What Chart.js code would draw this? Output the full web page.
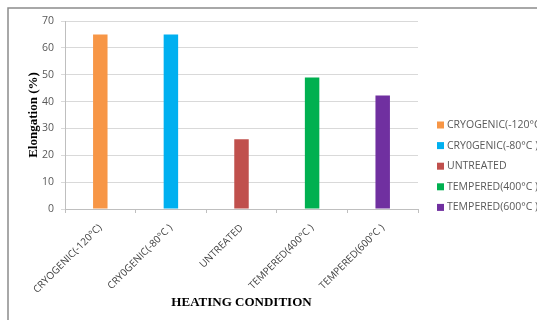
<!DOCTYPE html>
<html>
<head>
<meta charset="utf-8">
<script src="https://cdn.jsdelivr.net/npm/chart.js@4"></script>
<style>
  html, body { margin: 0; padding: 0; background: #fff; }
  #wrap { width: 537px; height: 320px; position: relative; }
</style>
</head>
<body>
<div id="wrap"><canvas id="chart" width="537" height="320"></canvas></div>
<script>
// Heating conditions and measured elongation (%)
const categories = ['CRYOGENIC(-120°C)', 'CRY0GENIC(-80°C )', 'UNTREATED', 'TEMPERED(400°C )', 'TEMPERED(600°C )'];
const legendLabels = ['CRYOGENIC(-120°C', 'CRY0GENIC(-80°C )', 'UNTREATED', 'TEMPERED(400°C )', 'TEMPERED(600°C )'];
const elongation = [65, 65, 26, 49, 42.3];
const barColors = ['#F79646', '#00B0F0', '#C0504D', '#00B050', '#7030A0'];
const yTicks = [0, 10, 20, 30, 40, 50, 60, 70];

const labelFont = '"Open Sans", sans-serif';

// Frame lines along the top and left edges
const framePlugin = {
  id: 'frame',
  beforeDraw(chart) {
    const ctx = chart.ctx;
    ctx.save();
    ctx.fillStyle = '#fff';
    ctx.fillRect(0, 0, chart.width, chart.height);
    ctx.strokeStyle = '#8c8c8c';
    ctx.lineWidth = 1.5;
    ctx.beginPath();
    ctx.moveTo(8, chart.height);
    ctx.lineTo(8, 8);
    ctx.lineTo(chart.width, 8);
    ctx.stroke();
    ctx.restore();
  }
};

// Legend listing each condition with its bar colour, placed right of the plot
const sideLegend = {
  id: 'sideLegend',
  afterDraw(chart) {
    const ctx = chart.ctx;
    ctx.save();
    ctx.font = '10.5px ' + labelFont;
    ctx.textBaseline = 'middle';
    const x0 = 437, y0 = 125, step = 20.6;
    legendLabels.forEach((lbl, i) => {
      const y = y0 + i * step;
      ctx.fillStyle = barColors[i];
      ctx.fillRect(x0, y - 3.5, 7, 7);
      ctx.fillStyle = '#595959';
      ctx.fillText(lbl, x0 + 10, y);
    });
    ctx.restore();
  }
};

new Chart(document.getElementById('chart'), {
  type: 'bar',
  data: {
    labels: categories,
    datasets: [{
      data: elongation,
      backgroundColor: barColors,
      categoryPercentage: 1.0,
      barPercentage: 0.205
    }]
  },
  options: {
    responsive: false,
    animation: false,
    devicePixelRatio: 1,
    layout: { padding: { top: 21, right: 119, bottom: 10, left: 26 } },
    plugins: {
      legend: { display: false },
      tooltip: { enabled: false }
    },
    scales: {
      x: {
        offset: true,
        afterFit(scale) {
          // rotated labels may hang past the left edge; keep the plot where it is
          scale.height = 101;
          scale.paddingLeft = 0;
          scale.paddingRight = 0;
        },
        grid: { drawOnChartArea: false, offset: true, tickLength: 4, color: '#bfbfbf' },
        border: { color: '#bfbfbf' },
        ticks: {
          maxRotation: 45, minRotation: 45, padding: 9,
          color: '#404040',
          font: { family: labelFont, size: 10 }
        },
        title: {
          display: true, text: 'HEATING CONDITION', color: '#000',
          font: { family: '"Liberation Serif", serif', size: 13, weight: 'bold' },
          padding: { top: 4, bottom: 0 }
        }
      },
      y: {
        min: 0, max: 70,
        afterFit(scale) { scale.width = 39; },
        afterBuildTicks(axis) { axis.ticks = yTicks.map(v => ({ value: v })); },
        grid: { color: '#d9d9d9', tickLength: 4 },
        border: { color: '#bfbfbf' },
        ticks: {
          color: '#595959', padding: 7,
          font: { family: labelFont, size: 10.5 }
        },
        title: {
          display: true, text: 'Elongation (%)', color: '#000',
          font: { family: '"Liberation Serif", serif', size: 13, weight: 'bold' },
          padding: { top: 0, bottom: 2 }
        }
      }
    }
  },
  plugins: [framePlugin, sideLegend]
});
</script>
</body>
</html>
